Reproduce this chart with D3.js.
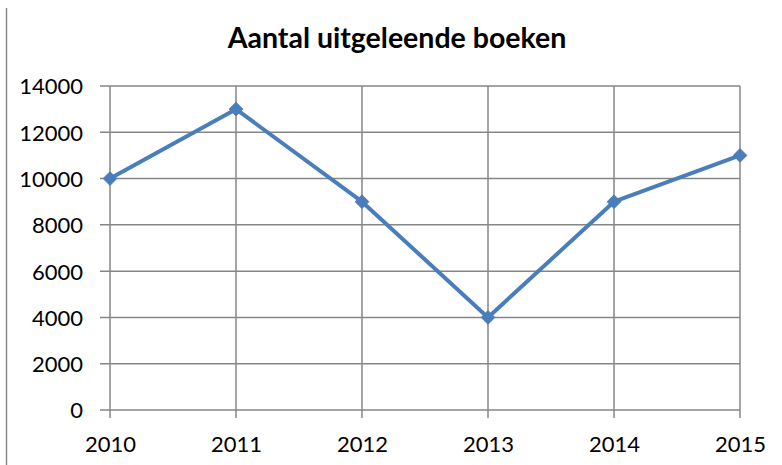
<!DOCTYPE html>
<html><head><meta charset="utf-8">
<script src="https://cdn.jsdelivr.net/npm/d3@7"></script>
<style>body{margin:0;background:#fff}svg{display:block}</style>
</head><body>
<script>
const title = "Aantal uitgeleende boeken";
const years = ["2010","2011","2012","2013","2014","2015"];
const values = [10000, 13000, 9000, 4000, 9000, 11000];
const yTicks = [0,2000,4000,6000,8000,10000,12000,14000];

const W = 782, H = 465;
const svg = d3.select("body").append("svg").attr("width", W).attr("height", H);
const font = "Lato, 'Open Sans', sans-serif";

// left frame line
svg.append("line").attr("x1",6.5).attr("x2",6.5).attr("y1",8).attr("y2",H).attr("stroke","#8c8c8c").attr("stroke-width",1.5);

const x = d3.scalePoint().domain(years).range([110, 740]);
const y = d3.scaleLinear().domain([0, 14000]).range([410, 86]);

// gridlines
const g = svg.append("g");
g.selectAll(".hg").data(yTicks).join("line")
  .attr("x1",100).attr("x2",740).attr("y1",d=>y(d)).attr("y2",d=>y(d))
  .attr("stroke","#868686").attr("stroke-width",1.5);
g.selectAll(".vg").data(years).join("line")
  .attr("x1",d=>x(d)).attr("x2",d=>x(d)).attr("y1",86).attr("y2",418)
  .attr("stroke","#868686").attr("stroke-width",1.5);

// axes labels
const yAxis = d3.axisLeft(y).tickValues(yTicks).tickSize(0).tickPadding(27).tickFormat(d3.format("d"));
const ya = svg.append("g").attr("transform","translate(110,0)").call(yAxis);
ya.select(".domain").remove();
ya.selectAll("text").attr("font-family",font).attr("font-size",22).attr("fill","#000").attr("dy","0.36em");

const xAxis = d3.axisBottom(x).tickSize(0);
const xa = svg.append("g").attr("transform","translate(0,410)").call(xAxis);
xa.select(".domain").remove();
xa.selectAll("text").attr("font-family",font).attr("font-size",22).attr("fill","#000").attr("y",42).attr("dy",0);

// title
svg.append("text").attr("x",397).attr("y",48).attr("text-anchor","middle")
  .attr("font-family",font).attr("font-weight","bold").attr("font-size",28.5).attr("fill","#000").text(title);

// line
const line = d3.line().x((d,i)=>x(years[i])).y(d=>y(d));
svg.append("path").datum(values).attr("d",line).attr("fill","none")
  .attr("stroke","#4a7ebb").attr("stroke-width",4).attr("stroke-linejoin","round");

svg.selectAll(".m").data(values).join("path")
  .attr("transform",(d,i)=>`translate(${x(years[i])},${y(d)})`)
  .attr("d", d3.symbol(d3.symbolDiamond2 || d3.symbolDiamond, 120)())
  .attr("fill","#4a7ebb").attr("stroke","#4a7ebb").attr("stroke-width",1);
</script>
</body></html>
